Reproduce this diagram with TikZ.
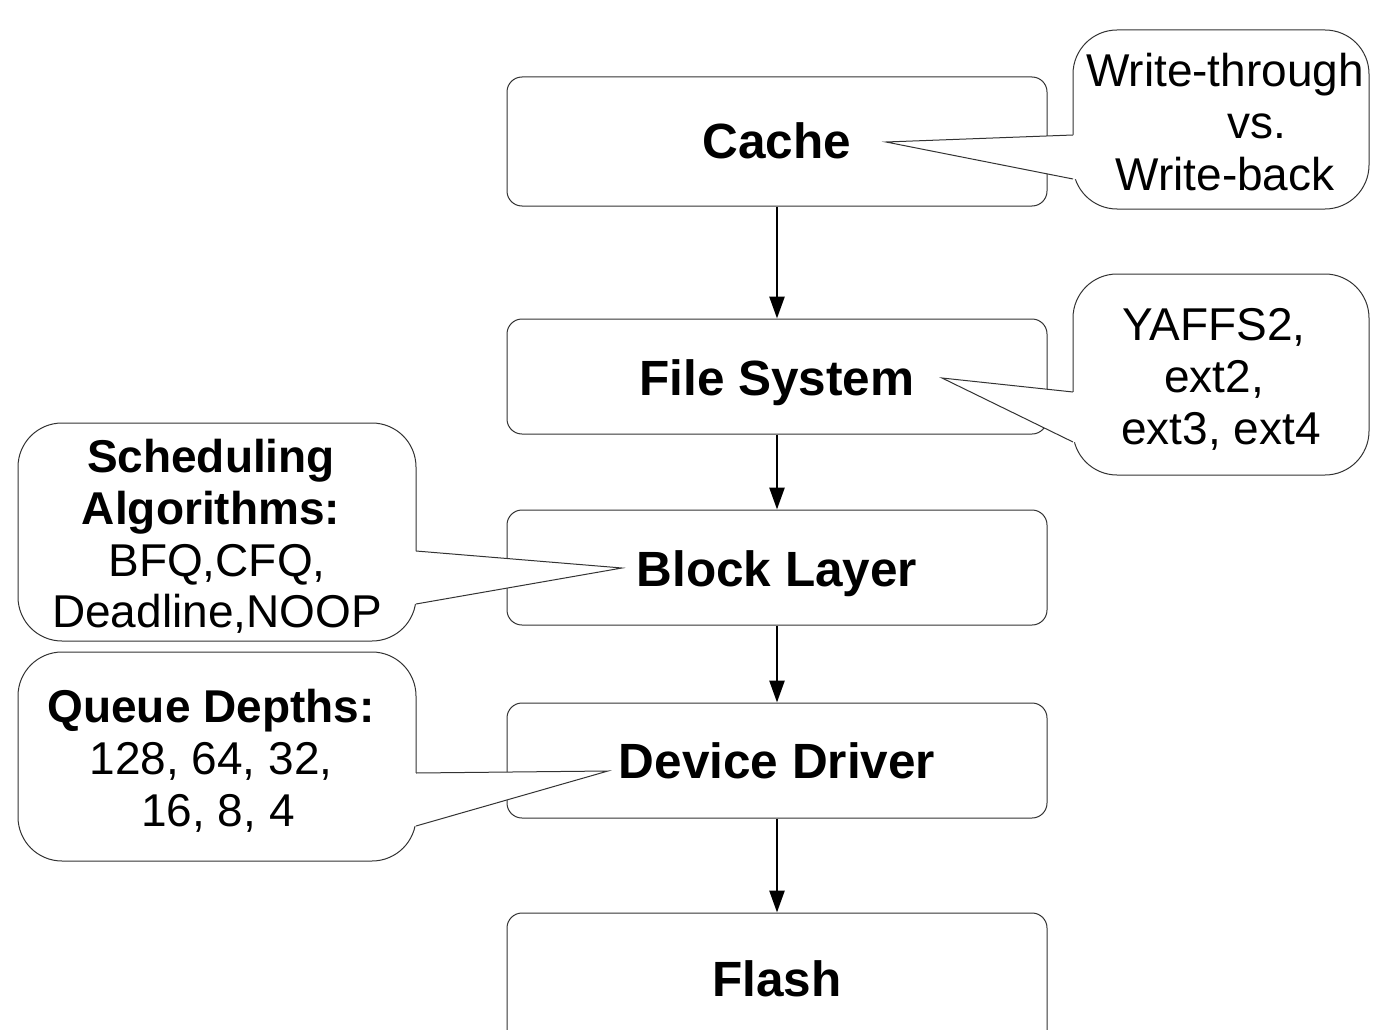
\documentclass[tikz,border=0pt]{standalone}
\usepackage{fontspec}
\setmainfont{Liberation Sans}
\usetikzlibrary{arrows.meta}
\begin{document}
\begin{tikzpicture}[x=1pt,y=-1pt,
 layer/.style={draw=black!80, line width=1pt, rounded corners=15pt, fill=white, minimum width=540pt, inner sep=0pt},
 lbl/.style={font=\fontsize{49.5}{56}\selectfont\bfseries, anchor=base, inner sep=0pt},
 ctxt/.style={font=\fontsize{46}{52}\selectfont, anchor=base, inner sep=0pt},
 ctxtb/.style={font=\fontsize{46}{52}\selectfont\bfseries, anchor=base, inner sep=0pt},
 bubble/.style={draw=black!80, line width=1pt, fill=white, rounded corners=44pt},
 ptr/.style={draw=black!80, line width=1pt},
 flow/.style={line width=2.6pt, -{Triangle[length=22pt,width=15pt]}}]
\useasboundingbox (0,0) rectangle (1376,1030);
\clip (0,0) rectangle (1376,1030);

% layer boxes
\node[layer, minimum height=129pt] (cache) at (777,141.5) {};
\node[layer, minimum height=115pt] (fs) at (777,376.5) {};
\node[layer, minimum height=115pt] (block) at (777,567.5) {};
\node[layer, minimum height=115pt] (driver) at (777,760.5) {};
\node[layer, minimum height=132pt] (flash) at (777,979) {};

\node[lbl] (cacheT) at (777,159) {Cache};
\node[lbl] (fsT) at (777,395) {File System};
\node[lbl] (blockT) at (777,586) {Block Layer};
\node[lbl] (driverT) at (777,778) {Device Driver};
\node[lbl] (flashT) at (777,996) {Flash};

% arrows
\draw[flow] (cache.south) -- (fs.north);
\draw[flow] (fs.south) -- (block.north);
\draw[flow] (block.south) -- (driver.north);
\draw[flow] (driver.south) -- (flash.north);

% callout 1: write policy
\coordinate (c1tip) at (886,142);
\coordinate (c1a) at (1073,135);
\coordinate (c1b) at (1073,179);
\draw[bubble] (1073,30) rectangle (1369,209);
\fill[white] (c1tip) -- (c1a) -- (1076,135) -- (1076,179) -- (c1b) -- cycle;
\draw[ptr] (c1a) -- (c1tip) -- (c1b);
\node[ctxt] (c1l1) at (1225,87) {Write-through};
\node[ctxt] (c1l2) at (1257,139) {vs.};
\node[ctxt] (c1l3) at (1225,190) {Write-back};

% callout 2: file systems
\coordinate (c2tip) at (942,378);
\coordinate (c2a) at (1073,392);
\coordinate (c2b) at (1073,442);
\draw[bubble] (1073,274) rectangle (1369,475);
\fill[white] (c2tip) -- (c2a) -- (1076,392) -- (1076,442) -- (c2b) -- cycle;
\draw[ptr] (c2a) -- (c2tip) -- (c2b);
\node[ctxt] (c2l1) at (1214,340) {YAFFS2,};
\node[ctxt] (c2l2) at (1214,392) {ext2,};
\node[ctxt] (c2l3) at (1221,444) {ext3, ext4};

% callout 3: scheduling
\coordinate (c3tip) at (622,568);
\coordinate (c3a) at (416,551);
\coordinate (c3b) at (416,604);
\draw[bubble] (18,423) rectangle (416,641);
\fill[white] (c3tip) -- (c3a) -- (413,551) -- (413,604) -- (c3b) -- cycle;
\draw[ptr] (c3a) -- (c3tip) -- (c3b);
\node[ctxtb] (c3l1) at (211,472) {Scheduling};
\node[ctxtb] (c3l2) at (211,524) {Algorithms:};
\node[ctxt] (c3l3) at (217,576) {BFQ,CFQ,};
\node[ctxt] (c3l4) at (217,627) {Deadline,NOOP};

% callout 4: queue depths
\coordinate (c4tip) at (608,771);
\coordinate (c4a) at (416,773);
\coordinate (c4b) at (416,826);
\draw[bubble] (18,652) rectangle (416,861);
\fill[white] (c4tip) -- (c4a) -- (413,773) -- (413,826) -- (c4b) -- cycle;
\draw[ptr] (c4a) -- (c4tip) -- (c4b);
\node[ctxtb] (c4l1) at (211,722) {Queue Depths:};
\node[ctxt] (c4l2) at (211,774) {128, 64, 32,};
\node[ctxt] (c4l3) at (218,826) {16, 8, 4};
\end{tikzpicture}
\end{document}
